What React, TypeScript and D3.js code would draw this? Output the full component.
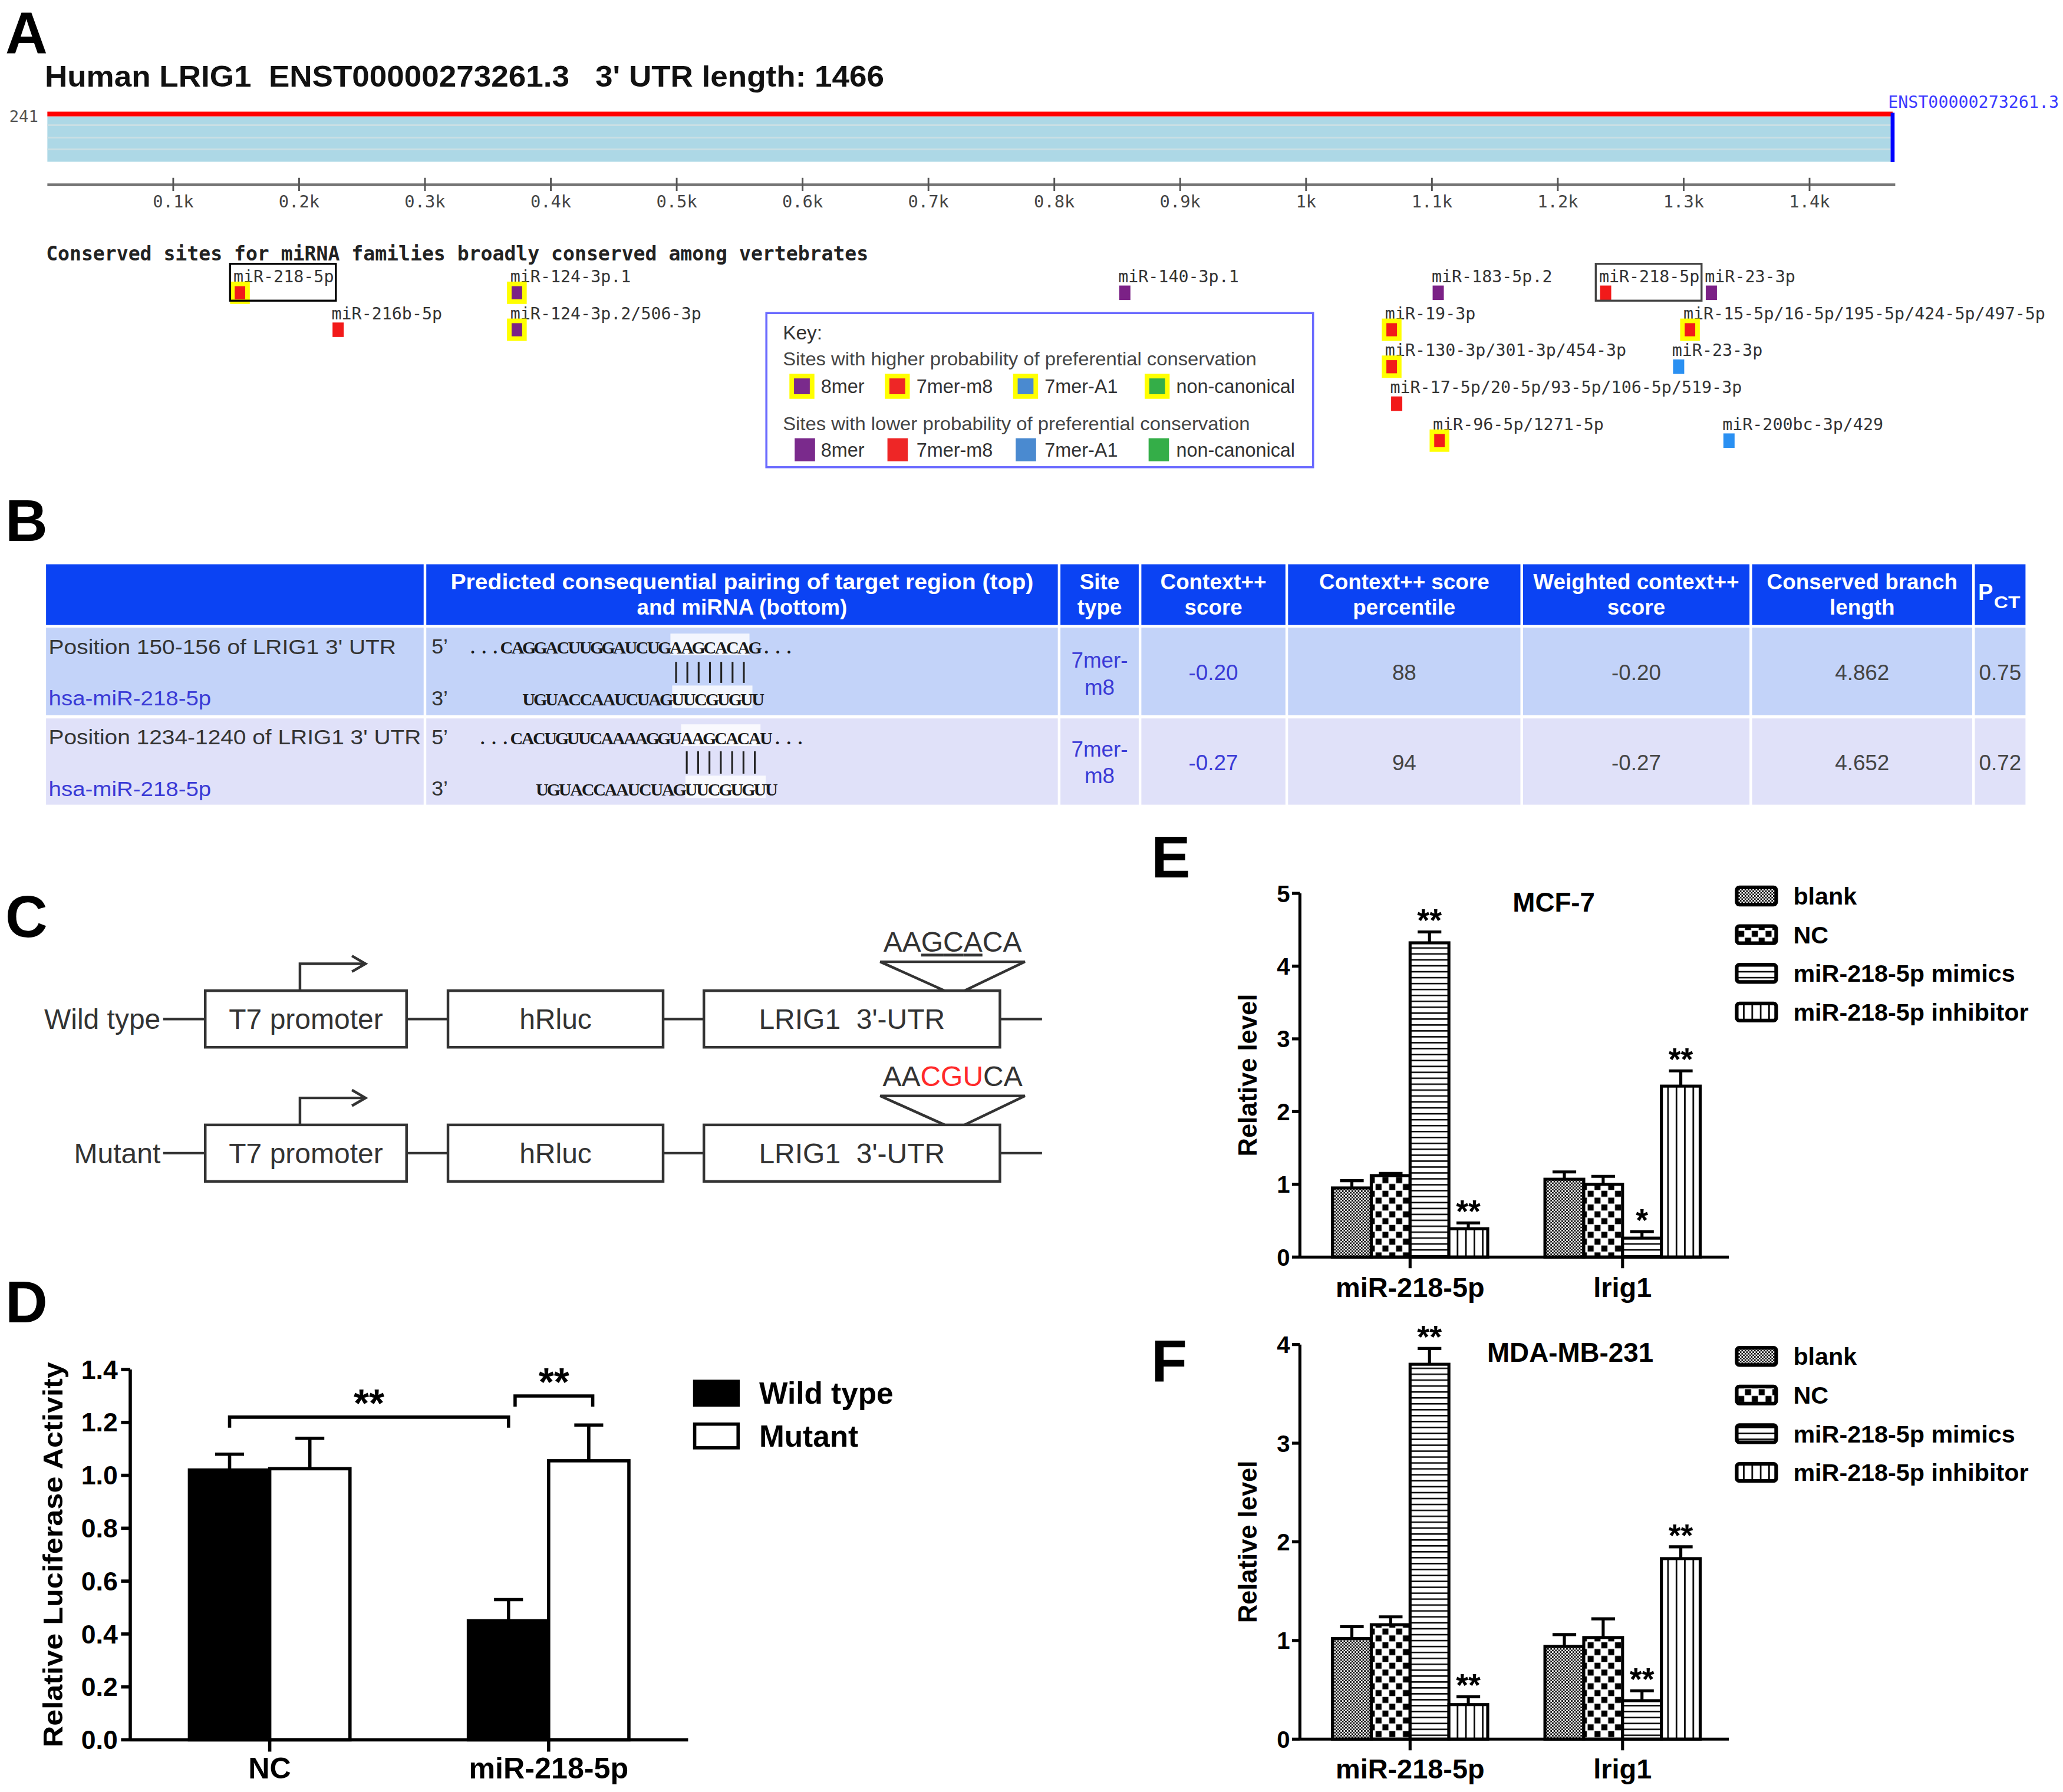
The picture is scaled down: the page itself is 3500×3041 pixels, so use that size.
import React from 'react';
import * as d3 from 'd3';

const SANS = "Arial, 'Liberation Sans', Helvetica, sans-serif";
const MONO = "'DejaVu Sans Mono', 'Liberation Mono', monospace";
const SERIF = "'Liberation Serif', 'Times New Roman', serif";

// ---------------- Panel A data ----------------
const utrLength = 1466;
const utrTicks = [100, 200, 300, 400, 500, 600, 700, 800, 900, 1000, 1100, 1200, 1300, 1400];
const utrTitle = "Human LRIG1  ENST00000273261.3   3' UTR length: 1466";
const transcriptId = 'ENST00000273261.3';
const alignmentDepth = '241';
const conservedHeader = 'Conserved sites for miRNA families broadly conserved among vertebrates';
const siteNames = [
  'miR-218-5p', 'miR-216b-5p', 'miR-124-3p.1', 'miR-124-3p.2/506-3p', 'miR-140-3p.1',
  'miR-183-5p.2', 'miR-218-5p', 'miR-23-3p', 'miR-19-3p', 'miR-15-5p/16-5p/195-5p/424-5p/497-5p',
  'miR-130-3p/301-3p/454-3p', 'miR-23-3p', 'miR-17-5p/20-5p/93-5p/106-5p/519-3p', 'miR-96-5p/1271-5p',
  'miR-200bc-3p/429',
];
const sitePositions = [153, 231, 373, 373, 856, 1105, 1238, 1322, 1068, 1305, 1068, 1296, 1072, 1106, 1336];
const siteRows = [0, 1, 0, 1, 0, 0, 0, 0, 1, 1, 2, 2, 3, 4, 4];
const siteTypes = ['7mer-m8', '7mer-m8', '8mer', '8mer', '8mer', '8mer', '7mer-m8', '8mer', '7mer-m8', '7mer-m8',
  '7mer-m8', '7mer-A1', '7mer-m8', '7mer-m8', '7mer-A1'];
const siteHighConservation = [true, false, true, true, false, false, false, false, true, true, true, false, false, true, false];
const siteBoxed = [true, false, false, false, false, false, true, false, false, false, false, false, false, false, false];
const keyTypes = ['8mer', '7mer-m8', '7mer-A1', 'non-canonical'];
const keyColors = ['#7a2a8c', '#ee2626', '#4a8ad0', '#34ae48'];
const siteTypeColors: Record<string, string> = { '8mer': '#7b2186', '7mer-m8': '#f21a1a', '7mer-A1': '#2a90f2', 'non-canonical': '#2fae45' };
const keyHighText = 'Sites with higher probability of preferential conservation';
const keyLowText = 'Sites with lower probability of preferential conservation';

// ---------------- Panel B data ----------------
const tableHeaders = [
  ['', ''],
  ['Predicted consequential pairing of target region (top)', 'and miRNA (bottom)'],
  ['Site', 'type'],
  ['Context++', 'score'],
  ['Context++ score', 'percentile'],
  ['Weighted context++', 'score'],
  ['Conserved branch', 'length'],
];
const rowPositions = ["Position 150-156 of LRIG1 3' UTR", "Position 1234-1240 of LRIG1 3' UTR"];
const rowMirnas = ['hsa-miR-218-5p', 'hsa-miR-218-5p'];
const targetSeqs = ['...CAGGACUUGGAUCUGAAGCACAG...', '...CACUGUUCAAAAGGUAAGCACAU...'];
const mirnaSeqs = ['UGUACCAAUCUAGUUCGUGUU', 'UGUACCAAUCUAGUUCGUGUU'];
const seedTarget = 'AAGCACA';
const seedMirna = 'UUCGUGU';
const siteTypeCol = [['7mer-', 'm8'], ['7mer-', 'm8']];
const contextScores = ['-0.20', '-0.27'];
const contextPercentiles = ['88', '94'];
const weightedScores = ['-0.20', '-0.27'];
const branchLengths = ['4.862', '4.652'];
const pctValues = ['0.75', '0.72'];

// ---------------- Panel C data ----------------
const constructNames = ['Wild type', 'Mutant'];
const constructSeqs = ['AAGCACA', 'AACGUCA'];
const mutatedPositions = [[] as number[], [2, 3, 4]];
const underlinedPositions = [[2, 3, 4], [] as number[]];
const constructParts = ['T7 promoter', 'hRluc', 'LRIG1  3\'-UTR'];

// ---------------- Panel D data ----------------
const lucGroups = ['NC', 'miR-218-5p'];
const lucSeries = ['Wild type', 'Mutant'];
const wildTypeMeans = [1.02, 0.45];
const wildTypeSD = [0.06, 0.08];
const mutantMeans = [1.025, 1.055];
const mutantSD = [0.115, 0.135];

// ---------------- Panel E / F data ----------------
const qpcrGroups = ['miR-218-5p', 'lrig1'];
const treatments = ['blank', 'NC', 'miR-218-5p mimics', 'miR-218-5p inhibitor'];
const mcf7Means = [[0.95, 1.12, 4.32, 0.39], [1.07, 1.0, 0.26, 2.35]];
const mcf7Errors = [[0.1, 0.03, 0.15, 0.08], [0.1, 0.11, 0.09, 0.21]];
const mcf7Stars = [['', '', '**', '**'], ['', '', '*', '**']];
const mdaMeans = [[1.02, 1.16, 3.8, 0.35], [0.94, 1.03, 0.39, 1.83]];
const mdaErrors = [[0.12, 0.08, 0.16, 0.08], [0.12, 0.19, 0.1, 0.12]];
const mdaStars = [['', '', '**', '**'], ['', '', '**', '**']];
const patternIds = ['pat-blank', 'pat-nc', 'pat-mimic', 'pat-inhib'];

function PanelLetter({ x, y, t }: { x: number; y: number; t: string }) {
  return <text x={x} y={y} fontFamily={SANS} fontWeight="bold" fontSize={44.5} fill="#000">{t}</text>;
}

function PanelA() {
  const x = d3.scaleLinear().domain([0, utrLength]).range([36, 1438.5]);
  const rowY = d3.scaleLinear().domain([0, 4]).range([214.4, 326.8]);
  const charW = 7.64;
  const keySwX = [600, 672.5, 770, 870];
  const keyLowX = [604, 674.5, 772, 873];
  return (
    <g>
      <PanelLetter x={4} y={40.5} t="A" />
      <text x={34} y={65.6} fontFamily={SANS} fontWeight="bold" fontSize={22.5} fill="#111"
        textLength={638} lengthAdjust="spacingAndGlyphs" style={{ whiteSpace: 'pre' }}>{utrTitle}</text>
      <text x={7} y={92.5} fontFamily={MONO} fontSize={12.2} fill="#555">{alignmentDepth}</text>
      <rect x={x(0)} y={88.3} width={x(utrLength) - x(0)} height={34.5} fill="#add8e6" />
      {[95, 104.4, 113.4].map((yy) => (
        <line key={yy} x1={x(0)} x2={x(utrLength)} y1={yy} y2={yy} stroke="#cadfe4" strokeWidth={1.3} />
      ))}
      <line x1={x(0)} x2={x(utrLength)} y1={86.5} y2={86.5} stroke="#ff0000" strokeWidth={3.6} />
      <line x1={x(utrLength)} x2={x(utrLength)} y1={85.5} y2={123} stroke="#0000ff" strokeWidth={3} />
      <text x={1435} y={82} fontFamily={MONO} fontSize={12.7} fill="#3a3aff">{transcriptId}</text>
      <line x1={x(0)} x2={1440.5} y1={140.3} y2={140.3} stroke="#777" strokeWidth={2.2} />
      {utrTicks.map((t) => (
        <g key={t}>
          <line x1={x(t)} x2={x(t)} y1={135} y2={145} stroke="#555" strokeWidth={1.3} />
          <text x={x(t)} y={157.4} textAnchor="middle" fontFamily={MONO} fontSize={12.9} fill="#444">
            {`${+(t / 1000).toFixed(1)}k`}
          </text>
        </g>
      ))}
      <text x={35} y={198} fontFamily={MONO} fontWeight="bold" fontSize={14.8} fill="#222"
        textLength={625} lengthAdjust="spacingAndGlyphs">{conservedHeader}</text>
      {siteNames.map((name, i) => {
        const cx = x(sitePositions[i]);
        const base = rowY(siteRows[i]);
        const cy = base + 8;
        const lx = cx - 5;
        const col = siteTypeColors[siteTypes[i]];
        return (
          <g key={i}>
            <text x={lx} y={base} fontFamily={MONO} fontSize={12.7} fill="#333"
              textLength={name.length * charW} lengthAdjust="spacingAndGlyphs">{name}</text>
            {siteHighConservation[i] ? (
              <g>
                <rect x={cx - 7.5} y={cy - 8.5} width={15} height={17} fill="#ffff00" />
                <rect x={cx - 4} y={cy - 5} width={8} height={10} fill={col} />
              </g>
            ) : (
              <rect x={cx - 4.25} y={cy - 5.5} width={8.5} height={11} fill={col} />
            )}
            {siteBoxed[i] && (
              <rect x={cx - 7.5} y={base - 14} width={lx + name.length * charW + 1.5 - (cx - 7.5)} height={28}
                fill="none" stroke={i === 0 ? '#000' : '#444'} strokeWidth={1.5} />
            )}
          </g>
        );
      })}
      <rect x={582.5} y={237.8} width={415.5} height={117.2} fill="#fff" stroke="#6a6aff" strokeWidth={1.6} />
      <text x={595} y={257.7} fontFamily={SANS} fontSize={15} fill="#333">Key:</text>
      <text x={595} y={277.7} fontFamily={SANS} fontSize={14} fill="#444" textLength={360} lengthAdjust="spacingAndGlyphs">{keyHighText}</text>
      <text x={595} y={326.9} fontFamily={SANS} fontSize={14} fill="#444" textLength={355} lengthAdjust="spacingAndGlyphs">{keyLowText}</text>
      {keyTypes.map((k, i) => (
        <g key={k}>
          <rect x={keySwX[i]} y={284} width={19} height={19} fill="#ffff00" />
          <rect x={keySwX[i] + 3.5} y={287.5} width={12} height={12} fill={keyColors[i]} />
          <text x={keySwX[i] + 24} y={298.5} fontFamily={SANS} fontSize={14.5} fill="#333">{k}</text>
          <rect x={keyLowX[i]} y={333} width={15.5} height={17.5} fill={keyColors[i]} />
          <text x={keySwX[i] + 24} y={346.8} fontFamily={SANS} fontSize={14.5} fill="#333">{k}</text>
        </g>
      ))}
    </g>
  );
}

function PanelB() {
  const colEdges = [35, 323, 805, 866.5, 978, 1156.6, 1330.7, 1500, 1540.5];
  const rowTops = [428.8, 477, 546];
  const rowBottoms = [475, 543.5, 611.6];
  const rowFills = ['#0b43f3', '#c3d3f9', '#e0e1f9'];
  const mid = (c: number) => (colEdges[c] + colEdges[c + 1]) / 2;
  const layouts = [
    { topX: 355, topW: 249, botX: 397.6, botW: 183, base: 496.5, botBase: 536, pipeTop: 503, pipeBot: 519, lab1: 497, lab2: 536, val: 517, st1: 507.5, st2: 528 },
    { topX: 362.5, topW: 250, botX: 407.7, botW: 183, base: 565.5, botBase: 604.5, pipeTop: 571, pipeBot: 588, lab1: 565.5, lab2: 605, val: 585.5, st1: 575, st2: 595 },
  ];
  const blue = '#3a3ad6';
  const gray = '#444';
  return (
    <g>
      <PanelLetter x={4} y={411} t="B" />
      {rowTops.map((top, r) =>
        colEdges.slice(0, -1).map((e, c) => {
          const x0 = e + (c > 0 ? 1 : 0);
          const x1 = colEdges[c + 1] - 1;
          return <rect key={`${r}-${c}`} x={x0} y={top} width={x1 - x0} height={rowBottoms[r] - top} fill={rowFills[r]} />;
        })
      )}
      {tableHeaders.map((h, c) => (
        <g key={c}>
          <text x={mid(c)} y={448} textAnchor="middle" fontFamily={SANS} fontWeight="bold" fontSize={16.5} fill="#fff"
            {...(c === 1 ? { textLength: 443, lengthAdjust: 'spacingAndGlyphs' } : {})}>{h[0]}</text>
          <text x={mid(c)} y={467} textAnchor="middle" fontFamily={SANS} fontWeight="bold" fontSize={16.5} fill="#fff">{h[1]}</text>
        </g>
      ))}
      <text x={1503.5} y={456} fontFamily={SANS} fontWeight="bold" fontSize={17} fill="#fff">P</text>
      <text x={1515.5} y={462} fontFamily={SANS} fontWeight="bold" fontSize={13} fill="#fff" textLength={20} lengthAdjust="spacingAndGlyphs">CT</text>
      {layouts.map((L, r) => {
        const tw = L.topW / targetSeqs[r].length;
        const bw = L.botW / mirnaSeqs[r].length;
        const ts = targetSeqs[r].indexOf(seedTarget);
        const bs = mirnaSeqs[r].indexOf(seedMirna);
        const topXs = targetSeqs[r].split('').map((_, i) => L.topX + (i + 0.5) * tw);
        const botXs = mirnaSeqs[r].split('').map((_, i) => L.botX + (i + 0.5) * bw);
        return (
          <g key={r}>
            <text x={37} y={L.lab1} fontFamily={SANS} fontSize={16} fill="#333" textLength={r === 0 ? 264 : 283} lengthAdjust="spacingAndGlyphs">{rowPositions[r]}</text>
            <text x={37} y={L.lab2} fontFamily={SANS} fontSize={16} fill={blue} textLength={123.5} lengthAdjust="spacingAndGlyphs">{rowMirnas[r]}</text>
            <text x={328} y={L.base} fontFamily={SANS} fontSize={16} fill="#333">5’</text>
            <text x={328} y={L.botBase} fontFamily={SANS} fontSize={16} fill="#333">3’</text>
            <rect x={L.topX + ts * tw} y={L.base - 15} width={seedTarget.length * tw} height={16.5} fill="#fff" fillOpacity={0.8} />
            <rect x={L.botX + bs * bw} y={L.botBase - 15} width={seedMirna.length * bw} height={17} fill="#fff" fillOpacity={0.8} />
            <text x={topXs.join(' ')} y={L.base} textAnchor="middle" fontFamily={SERIF} fontWeight="bold" fontSize={13.5} fill="#1a1a1a">{targetSeqs[r]}</text>
            <text x={botXs.join(' ')} y={L.botBase} textAnchor="middle" fontFamily={SERIF} fontWeight="bold" fontSize={13.5} fill="#1a1a1a">{mirnaSeqs[r]}</text>
            {d3.range(seedTarget.length).map((k) => {
              const px = L.topX + (ts + k + 0.5) * tw;
              return <line key={k} x1={px} x2={px} y1={L.pipeTop} y2={L.pipeBot} stroke="#222" strokeWidth={1.4} />;
            })}
            <text x={mid(2)} y={L.st1} textAnchor="middle" fontFamily={SANS} fontSize={16.5} fill={blue}>{siteTypeCol[r][0]}</text>
            <text x={mid(2)} y={L.st2} textAnchor="middle" fontFamily={SANS} fontSize={16.5} fill={blue}>{siteTypeCol[r][1]}</text>
            <text x={mid(3)} y={L.val} textAnchor="middle" fontFamily={SANS} fontSize={16.5} fill={blue}>{contextScores[r]}</text>
            <text x={mid(4)} y={L.val} textAnchor="middle" fontFamily={SANS} fontSize={16.5} fill={gray}>{contextPercentiles[r]}</text>
            <text x={mid(5)} y={L.val} textAnchor="middle" fontFamily={SANS} fontSize={16.5} fill={gray}>{weightedScores[r]}</text>
            <text x={mid(6)} y={L.val} textAnchor="middle" fontFamily={SANS} fontSize={16.5} fill={gray}>{branchLengths[r]}</text>
            <text x={mid(7)} y={L.val} textAnchor="middle" fontFamily={SANS} fontSize={16.5} fill={gray}>{pctValues[r]}</text>
          </g>
        );
      })}
    </g>
  );
}

function PanelC() {
  const rowCenters = [774.5, 876.5];
  const boxes = [[156, 309], [340.5, 504], [535, 760]];
  const ink = '#333';
  return (
    <g>
      <PanelLetter x={4} y={712} t="C" />
      {constructNames.map((name, r) => {
        const cy = rowCenters[r];
        const top = cy - 21.5;
        const seq = constructSeqs[r];
        return (
          <g key={r} stroke={ink} strokeWidth={2} fill="none">
            <text x={122} y={cy + 7.5} textAnchor="end" fontFamily={SANS} fontSize={21.5} fill={ink} stroke="none">{name}</text>
            <line x1={124} x2={boxes[0][0]} y1={cy} y2={cy} />
            <line x1={boxes[0][1]} x2={boxes[1][0]} y1={cy} y2={cy} />
            <line x1={boxes[1][1]} x2={boxes[2][0]} y1={cy} y2={cy} />
            <line x1={boxes[2][1]} x2={792} y1={cy} y2={cy} />
            {boxes.map((b, i) => (
              <g key={i}>
                <rect x={b[0]} y={top} width={b[1] - b[0]} height={43} fill="#fff" />
                <text x={(b[0] + b[1]) / 2} y={cy + 7.5} textAnchor="middle" fontFamily={SANS} fontSize={21.5} fill={ink} stroke="none"
                  style={{ whiteSpace: 'pre' }}>{constructParts[i]}</text>
              </g>
            ))}
            <polyline points={`228,${top} 228,${cy - 42} 277.8,${cy - 42}`} />
            <polyline points={`267.5,${cy - 48} 277.8,${cy - 42} 267.5,${cy - 36}`} />
            <polyline points={`718,${top} 669,${cy - 43.5} 779,${cy - 43.5} 733,${top}`} />
            <text x={724} y={cy - 51} textAnchor="middle" fontFamily={SANS} fontSize={21.5} fill={ink} stroke="none">
              {seq.split('').map((ch, k) => (
                <tspan key={k} fill={mutatedPositions[r].includes(k) ? '#ff2a2a' : ink}
                  textDecoration={underlinedPositions[r].includes(k) ? 'underline' : undefined}>{ch}</tspan>
              ))}
            </text>
          </g>
        );
      })}
    </g>
  );
}

function PanelD() {
  const y = d3.scaleLinear().domain([0, 1.4]).range([1322.5, 1041]);
  const xg = d3.scalePoint().domain(lucGroups).range([99, 523]).padding(0.5);
  const barW = 61;
  const sw = 2.5;
  const series = [
    { means: wildTypeMeans, sd: wildTypeSD, fill: '#000', off: -barW },
    { means: mutantMeans, sd: mutantSD, fill: '#fff', off: 0 },
  ];
  const barCenter = (g: number, s: number) => (xg(lucGroups[g]) as number) + series[s].off + barW / 2;
  const brackets = [
    { a: [0, 0], b: [1, 0], y: 1.22, leg: 0.04, label: '**' },
    { a: [1, 0], b: [1, 1], y: 1.3, leg: 0.04, label: '**' },
  ];
  return (
    <g>
      <PanelLetter x={4} y={1005} t="D" />
      {series.map((s, si) =>
        lucGroups.map((g, gi) => {
          const x0 = (xg(g) as number) + s.off;
          const cx = x0 + barW / 2;
          const top = y(s.means[gi]);
          const et = y(s.means[gi] + s.sd[gi]);
          return (
            <g key={`${si}-${gi}`}>
              <rect x={x0} y={top} width={barW} height={y(0) - top} fill={s.fill} stroke="#000" strokeWidth={sw} />
              <line x1={cx} x2={cx} y1={top} y2={et} stroke="#000" strokeWidth={sw} />
              <line x1={cx - 11} x2={cx + 11} y1={et} y2={et} stroke="#000" strokeWidth={sw} />
            </g>
          );
        })
      )}
      {brackets.map((b, i) => {
        const xa = barCenter(b.a[0], b.a[1]) + (i === 1 ? 5 : 0);
        const xb = barCenter(b.b[0], b.b[1]) + (i === 1 ? 3 : 0);
        const yy = y(b.y);
        const yl = y(b.y - b.leg);
        return (
          <g key={i}>
            <polyline points={`${xa},${yl} ${xa},${yy} ${xb},${yy} ${xb},${yl}`} fill="none" stroke="#000" strokeWidth={sw} />
            <text x={(xa + xb) / 2} y={yy - 0.5} textAnchor="middle" fontFamily={SANS} fontWeight="bold" fontSize={30}>{b.label}</text>
          </g>
        );
      })}
      <line x1={99} x2={99} y1={y(1.4)} y2={y(0)} stroke="#000" strokeWidth={sw} />
      <line x1={99} x2={523} y1={y(0)} y2={y(0)} stroke="#000" strokeWidth={sw} />
      {y.ticks(7).map((t) => (
        <g key={t}>
          <line x1={92} x2={99} y1={y(t)} y2={y(t)} stroke="#000" strokeWidth={sw} />
          <text x={89.5} y={y(t) + 7} textAnchor="end" fontFamily={SANS} fontWeight="bold" fontSize={20}>{d3.format('.1f')(t)}</text>
        </g>
      ))}
      {lucGroups.map((g) => (
        <g key={g}>
          <line x1={xg(g) as number} x2={xg(g) as number} y1={y(0)} y2={y(0) + 9} stroke="#000" strokeWidth={sw} />
          <text x={xg(g) as number} y={1352} textAnchor="middle" fontFamily={SANS} fontWeight="bold" fontSize={22.5}>{g}</text>
        </g>
      ))}
      <text transform={`translate(47.5, ${(y(0) + y(1.4)) / 2}) rotate(-90)`} textAnchor="middle" fontFamily={SANS}
        fontWeight="bold" fontSize={21} textLength={293} lengthAdjust="spacingAndGlyphs">Relative Luciferase Activity</text>
      {lucSeries.map((s, i) => (
        <g key={s}>
          <rect x={528} y={1050 + i * 32.5} width={33} height={18} fill={series[i].fill} stroke="#000" strokeWidth={sw} />
          <text x={577} y={1067 + i * 32.5} fontFamily={SANS} fontWeight="bold" fontSize={23}>{s}</text>
        </g>
      ))}
    </g>
  );
}

type QProps = {
  letter: string; letterY: number; title: string; titleX: number; titleY: number;
  yMax: number; yTop: number; yBottom: number; means: number[][]; errors: number[][]; stars: string[][];
  legendTop: number; labelY: number;
};

function QpcrPanel(p: QProps) {
  const y = d3.scaleLinear().domain([0, p.yMax]).range([p.yBottom, p.yTop]);
  const xg = d3.scalePoint().domain(qpcrGroups).range([991, 1314]).padding(0.5);
  const xb = d3.scaleBand().domain(treatments).range([-59, 59]);
  const sw = 2.3;
  const axisX = 988;
  return (
    <g>
      <PanelLetter x={875} y={p.letterY} t={p.letter} />
      <text x={p.titleX} y={p.titleY} textAnchor="middle" fontFamily={SANS} fontWeight="bold" fontSize={20.5}>{p.title}</text>
      {qpcrGroups.map((g, gi) =>
        treatments.map((t, ti) => {
          const x0 = (xg(g) as number) + (xb(t) as number);
          const w = xb.bandwidth();
          const cx = x0 + w / 2;
          const top = y(p.means[gi][ti]);
          const et = y(p.means[gi][ti] + p.errors[gi][ti]);
          return (
            <g key={`${gi}-${ti}`}>
              <rect x={x0} y={top} width={w} height={y(0) - top} fill={`url(#${patternIds[ti]})`} stroke="#000" strokeWidth={sw} />
              <line x1={cx} x2={cx} y1={top} y2={et} stroke="#000" strokeWidth={sw} />
              <line x1={cx - 9} x2={cx + 9} y1={et} y2={et} stroke="#000" strokeWidth={sw} />
              {p.stars[gi][ti] && (
                <text x={cx} y={et - 0.5} textAnchor="middle" fontFamily={SANS} fontWeight="bold" fontSize={24}>{p.stars[gi][ti]}</text>
              )}
            </g>
          );
        })
      )}
      <line x1={axisX} x2={axisX} y1={p.yTop} y2={p.yBottom} stroke="#000" strokeWidth={sw} />
      <line x1={axisX} x2={1314} y1={p.yBottom} y2={p.yBottom} stroke="#000" strokeWidth={sw} />
      {d3.range(0, p.yMax + 1).map((t) => (
        <g key={t}>
          <line x1={982} x2={axisX} y1={y(t)} y2={y(t)} stroke="#000" strokeWidth={sw} />
          <text x={980.5} y={y(t) + 6.5} textAnchor="end" fontFamily={SANS} fontWeight="bold" fontSize={18}>{t}</text>
        </g>
      ))}
      {qpcrGroups.map((g) => (
        <g key={g}>
          <line x1={xg(g) as number} x2={xg(g) as number} y1={p.yBottom} y2={p.yBottom + 8.5} stroke="#000" strokeWidth={sw} />
          <text x={xg(g) as number} y={p.labelY} textAnchor="middle" fontFamily={SANS} fontWeight="bold" fontSize={21}>{g}</text>
        </g>
      ))}
      <text transform={`translate(955, ${(p.yTop + p.yBottom) / 2}) rotate(-90)`} textAnchor="middle" fontFamily={SANS}
        fontWeight="bold" fontSize={19.5}>Relative level</text>
      {treatments.map((t, i) => {
        const cy = p.legendTop + i * 29.4;
        return (
          <g key={t}>
            <rect x={1320} y={cy - 6.5} width={30} height={13} rx={2} fill={`url(#${patternIds[i]})`} stroke="#000" strokeWidth={2.8} />
            <text x={1363} y={cy + 6.5} fontFamily={SANS} fontWeight="bold" fontSize={18.5}>{t}</text>
          </g>
        );
      })}
    </g>
  );
}

export default function App() {
  return (
    <svg width={3500} height={3041} viewBox="0 0 1568 1362" xmlns="http://www.w3.org/2000/svg"
      style={{ position: 'absolute', left: 0, top: 0, display: 'block', background: '#fff' }}>
      <defs>
        <pattern id="pat-blank" patternUnits="userSpaceOnUse" width={2.4} height={2.4}>
          <rect width={2.4} height={2.4} fill="#fff" />
          <rect x={0} y={0} width={1.2} height={1.2} fill="#000" />
          <rect x={1.2} y={1.2} width={1.2} height={1.2} fill="#000" />
        </pattern>
        <pattern id="pat-nc" patternUnits="userSpaceOnUse" width={10.4} height={10.4}>
          <rect width={10.4} height={10.4} fill="#fff" />
          <rect x={0.3} y={0.3} width={4.6} height={4.6} fill="#000" />
          <rect x={5.5} y={5.5} width={4.6} height={4.6} fill="#000" />
        </pattern>
        <pattern id="pat-mimic" patternUnits="userSpaceOnUse" width={10} height={4.5}>
          <rect width={10} height={4.5} fill="#fff" />
          <rect x={0} y={0} width={10} height={1.1} fill="#000" />
        </pattern>
        <pattern id="pat-inhib" patternUnits="userSpaceOnUse" width={6.4} height={10}>
          <rect width={6.4} height={10} fill="#fff" />
          <rect x={0} y={0} width={1.2} height={10} fill="#000" />
        </pattern>
      </defs>
      <rect width={1568} height={1362} fill="#fff" />
      <PanelA />
      <PanelB />
      <PanelC />
      <PanelD />
      <QpcrPanel letter="E" letterY={667} title="MCF-7" titleX={1181} titleY={693} yMax={5} yTop={679} yBottom={955.5}
        means={mcf7Means} errors={mcf7Errors} stars={mcf7Stars} legendTop={681} labelY={986} />
      <QpcrPanel letter="F" letterY={1050} title="MDA-MB-231" titleX={1193.5} titleY={1035} yMax={4} yTop={1022} yBottom={1322}
        means={mdaMeans} errors={mdaErrors} stars={mdaStars} legendTop={1031} labelY={1352} />
    </svg>
  );
}
